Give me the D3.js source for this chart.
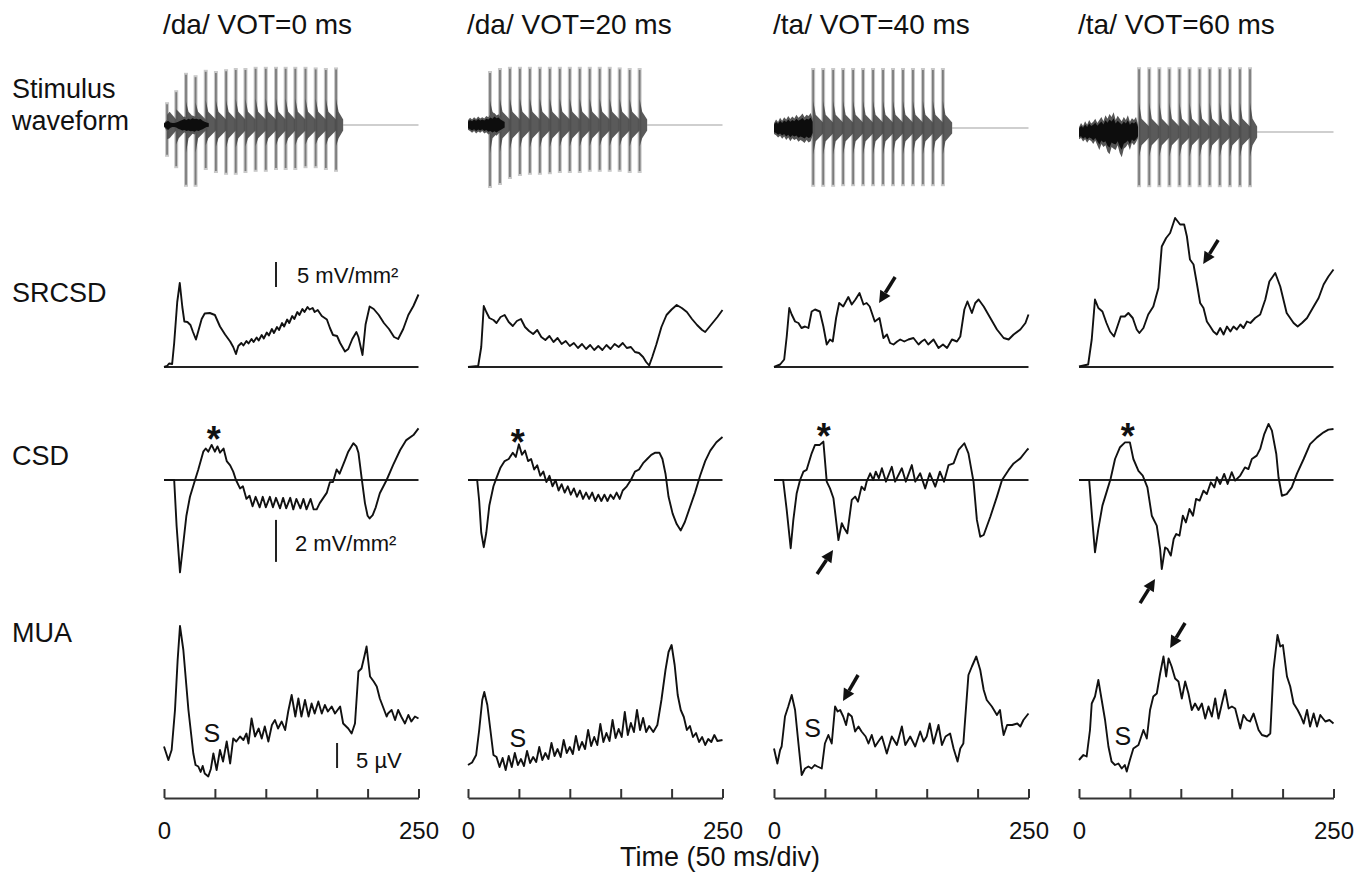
<!DOCTYPE html>
<html>
<head>
<meta charset="utf-8">
<script src="https://cdn.jsdelivr.net/npm/d3@7"></script>
<style>
  body { margin: 0; background: #fff; }
  svg text { font-family: "Liberation Sans", Arial, sans-serif; fill: #111; }
</style>
</head>
<body>
<svg id="fig" width="1371" height="888"></svg>
<script>
// ---- labels ----
const titles = ["/da/ VOT=0 ms", "/da/ VOT=20 ms", "/ta/ VOT=40 ms", "/ta/ VOT=60 ms"];
const rowLabels = [["Stimulus", "waveform"], ["SRCSD"], ["CSD"], ["MUA"]];
const xTicks = [0, 50, 100, 150, 200, 250];
const xLabel = "Time (50 ms/div)";

// ---- stimulus: glottal pulse times (ms), pulse amplitudes up/down (norm.), burst [t, up, down] ----
const pulsesDa0 = [3, 12, 21.6, 31, 41, 51, 61, 70.5, 80, 90, 100, 110, 119.5, 129, 139, 149, 159, 169];
const pulseUpDa0 = [0.38, 0.58, 0.87, 0.83, 0.92, 0.9, 0.93, 0.95, 0.95, 0.97, 0.97, 0.97, 0.97, 0.97, 0.97, 0.96, 0.95, 0.96];
const pulseDnDa0 = [0.53, 0.72, 1.03, 1.03, 0.75, 0.8, 0.83, 0.83, 0.8, 0.78, 0.78, 0.75, 0.75, 0.75, 0.72, 0.72, 0.75, 0.78];
const burstDa0 = [[0,0.03,0.03],[2,0.07,0.08],[4,0.1,0.12],[6,0.06,0.07],[8,0.05,0.05],[10,0.05,0.05],[12,0.06,0.06],[14,0.08,0.09],[16,0.1,0.11],[18,0.12,0.13],[20,0.14,0.12],[22,0.12,0.14],[24,0.15,0.13],[26,0.13,0.15],[28,0.16,0.14],[30,0.14,0.16],[32,0.15,0.13],[34,0.13,0.14],[36,0.14,0.12],[38,0.1,0.1],[40,0.08,0.07],[42,0.06,0.05],[44,0.04,0.04]];

const pulsesDa20 = [21.6, 31.4, 41.2, 51, 60.8, 70.6, 80.4, 90.2, 100, 109.8, 119.6, 129.4, 139.2, 149, 158.8, 168.6];
const pulseUpDa20 = [0.9, 0.95, 0.97, 0.97, 0.97, 0.97, 0.97, 0.97, 0.97, 0.97, 0.97, 0.97, 0.97, 0.96, 0.95, 0.95];
const pulseDnDa20 = [1.05, 1.0, 0.9, 0.85, 0.83, 0.83, 0.82, 0.8, 0.8, 0.8, 0.78, 0.78, 0.78, 0.78, 0.8, 0.8];
const burstDa20 = [[0,0.08,0.08],[2,0.12,0.1],[4,0.09,0.13],[6,0.13,0.1],[8,0.1,0.14],[10,0.14,0.11],[12,0.11,0.13],[14,0.13,0.1],[16,0.11,0.14],[18,0.15,0.12],[20,0.13,0.16],[22,0.18,0.14],[24,0.15,0.18],[26,0.2,0.15],[28,0.16,0.18],[30,0.18,0.14],[32,0.13,0.12],[34,0.1,0.09],[36,0.07,0.06]];

const pulsesTa40 = [38.5, 48.3, 58.1, 67.9, 77.7, 87.5, 97.3, 107.1, 116.9, 126.7, 136.5, 146.3, 156.1, 165.9];
const pulseUpTa40 = [1.0, 1.0, 1.0, 1.0, 1.0, 1.0, 1.0, 1.0, 1.0, 1.0, 1.0, 1.0, 1.0, 1.0];
const pulseDnTa40 = [0.98, 0.98, 0.98, 0.97, 0.97, 0.97, 0.97, 0.97, 0.97, 0.97, 0.97, 0.97, 0.97, 0.97];
const burstTa40 = [[0,0.08,0.1],[2,0.14,0.12],[4,0.1,0.16],[6,0.17,0.13],[8,0.12,0.18],[10,0.18,0.14],[12,0.14,0.2],[14,0.2,0.16],[16,0.15,0.22],[18,0.19,0.17],[20,0.16,0.2],[22,0.22,0.18],[24,0.17,0.23],[26,0.2,0.2],[28,0.24,0.22],[30,0.18,0.25],[32,0.22,0.2],[34,0.2,0.24],[36,0.25,0.22],[38,0.15,0.12]];

const pulsesTa60 = [59, 69, 78.9, 88.8, 98.7, 108.6, 118.5, 128.4, 138.3, 148.2, 158.1, 168];
const pulseUpTa60 = [1.08, 1.08, 1.08, 1.08, 1.08, 1.08, 1.08, 1.08, 1.08, 1.08, 1.08, 1.08];
const pulseDnTa60 = [0.92, 0.92, 0.92, 0.92, 0.92, 0.92, 0.92, 0.92, 0.92, 0.92, 0.92, 0.92];
const burstTa60 = [[0,0.08,0.12],[2,0.15,0.1],[4,0.1,0.16],[6,0.18,0.12],[8,0.12,0.18],[10,0.2,0.13],[12,0.14,0.15],[14,0.17,0.2],[16,0.22,0.14],[18,0.15,0.22],[20,0.2,0.3],[22,0.25,0.2],[24,0.18,0.25],[26,0.28,0.22],[28,0.22,0.33],[30,0.3,0.37],[32,0.25,0.25],[34,0.33,0.28],[36,0.2,0.3],[38,0.27,0.22],[40,0.22,0.35],[42,0.18,0.42],[44,0.25,0.28],[46,0.2,0.25],[48,0.28,0.2],[50,0.17,0.3],[52,0.23,0.18],[54,0.2,0.22],[56,0.25,0.17],[58,0.12,0.1]];

const stimEnd = [176, 176, 175, 175];

// ---- SRCSD (mV/mm^2), [t ms, value] ----
const srcsdDa0 = [[0,0],[3,0.2],[5,0.7],[8,0.6],[10,4.8],[13,13],[15.5,16.8],[18,12],[20,9.1],[23,9.0],[26,8.4],[28.5,7.0],[31.4,5.5],[34,7.4],[37,9.6],[40,10.7],[45,10.8],[50,10.4],[55,8.1],[60,6.5],[65,5.1],[68,4.0],[70.7,2.6],[73,4.2],[76,4.8],[78,4.3],[81,5.2],[83,4.7],[86,5.6],[88,5.0],[91,5.9],[93,5.3],[96,6.4],[98,5.7],[101,6.9],[103,6.3],[106,7.6],[108,6.8],[111,8.0],[113,7.4],[116,8.8],[118,8.1],[121,9.5],[123,8.8],[126,10.2],[128,9.6],[131,11.0],[133,10.4],[136,11.6],[138,11.0],[141,12.0],[143,11.5],[146,11.8],[148,11.0],[151,11.4],[155,10.2],[160,9.5],[163,7.8],[166,6.4],[170,6.2],[173,4.8],[177.8,3.1],[181,3.6],[185,5.6],[189,7.0],[191,6.0],[195,2.4],[198,8.5],[202,12.1],[206,11.6],[211,10.4],[216,8.8],[221,7.6],[226,6.0],[230,5.6],[235,7.6],[240,10.4],[245,12.2],[250,14.5]];
const srcsdDa20 = [[0,0],[10,0.2],[13,4],[15.5,12.2],[18,11],[21,9.8],[25,9.4],[28,8.8],[32,10],[36,10.4],[40,9],[44,8.2],[48,9.2],[52,9.6],[56,8],[60,7.2],[64,6.6],[68,7.4],[72,6],[76,5.4],[80,6.2],[84,5],[88,5.8],[92,4.6],[96,5.2],[100,4.2],[104,4.8],[108,3.8],[112,4.6],[116,3.6],[120,4.4],[124,3.4],[128,4.2],[132,3.4],[136,4.4],[140,3.6],[144,4.6],[148,4],[152,4.8],[156,3.8],[160,4],[164,3],[168,2.8],[172,2],[175,1],[178,0.3],[181,2],[185,4.5],[190,8],[195,10.4],[200,11.5],[205,12.4],[210,11.8],[215,11],[220,9.6],[225,8.4],[230,7.4],[233,7],[237,8],[241,9],[245,10],[250,11.4]];
const srcsdTa40 = [[0,0],[6,0.5],[10,1.5],[12.5,6.1],[15,11.8],[17.4,10.5],[20.7,9.1],[24,8.8],[27,7.8],[30.5,8.1],[33.8,7.8],[37,11.1],[40.3,11.5],[45,11.1],[48.5,8.1],[51.8,4.5],[55,5.5],[57.7,5.1],[61,9.8],[64,12.8],[68,12.1],[73,14.0],[76.4,12.5],[80,13.5],[84,14.8],[87.9,12.5],[91,12.8],[94,12.1],[99,9.1],[103.6,9.8],[107.5,5.8],[111,6.5],[114,4.8],[117.4,4.5],[121,5.1],[124,5.5],[128,5.1],[132,5.5],[137,5.8],[142,4.5],[145,5.1],[148,5.5],[151.5,4.5],[156.7,5.5],[161.6,3.8],[166,4.5],[170,3.8],[174.8,5.5],[179.7,5.1],[183,6.1],[187,11.5],[190,13.1],[194.4,10.8],[197.7,12.8],[201,13.5],[206,12.1],[212.5,9.8],[219,7.5],[225.6,5.8],[230.5,5.5],[235.4,6.5],[242,7.5],[247,8.8],[250,10.5]];
const srcsdTa60 = [[0,0.1],[9,0.5],[12.5,5.5],[15.7,13.5],[19,11.8],[23,11.1],[27,8.8],[30.5,7.1],[34.4,6.1],[37.7,8.1],[41,10.1],[45,10.1],[48.5,10.8],[52.8,9.8],[56.7,7.5],[59.3,6.8],[63.3,7.8],[68,10.5],[73,12.1],[78,15.8],[81.3,24.1],[85.6,25.8],[89.5,26.8],[94.4,29.8],[99.3,28.5],[103.3,28.5],[106,26.1],[109,21.5],[112.5,20.5],[115.7,16.8],[119,12.8],[122.3,11.8],[125.6,9.1],[128.9,8.1],[132,7.1],[135.4,6.5],[138.7,7.8],[142,6.5],[145.4,8.1],[148.7,7.1],[151.8,8.1],[155,7.5],[158.5,8.5],[161.6,7.8],[165,9.1],[168.4,8.8],[173,9.8],[178,10.5],[183,13.5],[187,17.1],[192.8,18.8],[197.7,16.1],[204,10.8],[210.8,8.8],[214.8,8.1],[219,8.8],[224,9.8],[230.5,12.1],[235.4,13.8],[240.3,16.5],[245,18.1],[250,19.5]];

// ---- CSD (mV/mm^2) ----
const csdDa0 = [[0,0],[10,0],[12.4,-2.2],[15.7,-4.4],[19,-3.0],[22,-1.7],[25.5,-0.8],[30.5,0],[33.7,0.5],[38.6,1.35],[41,1.5],[43.5,1.35],[46.8,1.67],[50,1.35],[52.5,1.6],[55,1.3],[58.5,1.5],[61.6,0.9],[65,0.7],[68,0.4],[70.7,0],[74.7,-0.4],[77.5,-0.3],[81,-0.9],[84,-0.75],[87,-1.25],[90,-0.8],[94,-1.3],[97,-0.8],[100,-1.3],[104,-0.8],[107,-1.3],[110,-0.85],[114,-1.35],[117,-0.85],[120,-1.35],[124,-0.85],[127,-1.4],[130,-0.9],[134,-1.35],[137,-0.9],[140,-1.4],[144,-0.9],[147,-1.4],[150,-1.4],[153,-1.1],[156.5,-0.85],[160,-0.6],[163,-0.1],[166,-0.1],[169.6,0.5],[172.5,0.3],[177.8,0.95],[181,1.35],[186,1.75],[189,1.6],[191,1.3],[194,0.15],[197.4,-1.1],[200,-1.7],[202,-1.83],[205,-1.67],[208,-1.3],[212,-0.63],[218.7,0],[225,0.71],[232,1.43],[238,1.9],[245,2.14],[250,2.46]];
const csdDa20 = [[0,0],[9,0],[11,-1],[13,-2.5],[15.5,-3.2],[18,-2.5],[21,-1.2],[25,-0.3],[28,0.1],[32,0.6],[36,0.9],[40,1.0],[44,1.3],[47,1.1],[50,1.7],[53,1.2],[56,1.4],[59,0.9],[62,1.0],[65,0.5],[68,0.7],[71,0.2],[74,0.4],[77,-0.1],[80,0.2],[83,-0.3],[86,0],[89,-0.5],[92,-0.2],[95,-0.6],[98,-0.3],[101,-0.7],[104,-0.4],[107,-0.8],[110,-0.5],[113,-0.9],[116,-0.6],[119,-0.9],[122,-0.6],[125,-1.0],[128,-0.7],[131,-1.0],[134,-0.7],[137,-1.0],[140,-0.7],[143,-0.9],[146,-0.6],[149,-0.9],[152,-0.5],[156,-0.3],[160,0],[164,0.4],[168,0.5],[172,0.8],[176,1.0],[180,1.2],[184,1.3],[188,1.3],[191,1.0],[194,0.3],[197,-0.8],[201,-1.6],[205,-2.1],[209,-2.4],[213,-2.0],[218,-1.3],[223,-0.6],[228,0.2],[233,0.9],[238,1.4],[244,1.8],[250,2.05]];
const csdTa40 = [[0,0],[9,0],[12.5,-1.43],[16.4,-3.25],[19,-1.9],[22.3,-0.63],[25.6,0],[28.9,0.4],[32,0.48],[37,1.27],[40.3,1.67],[45,1.67],[48.5,1.83],[51.8,-0.08],[55,-0.4],[58.4,-0.87],[63.3,-2.86],[66.6,-2.06],[69,-2.3],[72,-2.54],[76.4,-0.95],[79.7,-0.79],[82.5,-1.03],[86,-0.32],[89,-0.48],[91,-0.08],[94.5,0.32],[97.5,0],[100,0.4],[103,0.08],[106,0.56],[110,-0.08],[115.7,0.63],[119,-0.08],[125.6,0.56],[129.5,-0.08],[135.4,0.71],[138.7,-0.08],[143.6,0.32],[148.5,-0.4],[153,0.32],[158.4,-0.32],[163,0.4],[167,-0.08],[171.5,0.71],[176.4,0.79],[181.3,1.43],[187,1.75],[191,1.27],[196,-0.08],[199.3,-1.9],[202.6,-2.7],[206,-2.62],[212.5,-1.75],[219,-0.79],[224,0],[230.5,0.48],[235.4,0.79],[242,1.03],[248.5,1.43],[250,1.5]];
const csdTa60 = [[0,0],[10,0],[13,-1.86],[15.7,-3.44],[19,-2.33],[23,-1.22],[27,-0.59],[31,0.05],[35.4,1],[40.3,1.56],[45.2,1.79],[50,1.79],[53.4,1],[58.4,0.44],[62.6,0.21],[67.2,-0.35],[71.5,-1.7],[76.4,-2.17],[79.7,-3.29],[81.3,-4.24],[84.6,-3.21],[87,-3.29],[90.2,-3.6],[93,-2.81],[95.5,-2.57],[98.7,-2.65],[102,-1.7],[105,-2.02],[108.5,-1.38],[112,-1.7],[115,-0.9],[118.5,-0.98],[122.3,-0.51],[125.6,-0.67],[129.5,-0.11],[133,-0.35],[135.4,0.13],[138.7,-0.19],[142.6,0.29],[146,-0.19],[150,0.37],[153.4,-0.03],[158.4,0.21],[163,0.6],[166.4,0.52],[169.8,1],[174.6,1.16],[178,1.48],[182,2.19],[186.2,2.67],[189.5,2.35],[193.8,1.24],[196,0.13],[199.3,-0.75],[204,-0.67],[209,-0.35],[214,0.29],[220.7,1],[227,1.71],[233.8,2.03],[240.3,2.27],[245,2.4],[250,2.43]];

// ---- MUA (µV, arbitrary offset) ----
const muaDa0 = [[0,8.7],[4.3,6],[7.5,8],[10.8,16],[13.4,26],[15.7,32.8],[19,28],[24,16],[28.8,7.3],[31,5],[33.7,4.7],[36,3.6],[38,4.8],[40,3.3],[43.5,2.7],[46,4.2],[48.5,7.3],[51.7,4],[55,8],[58,5.7],[61.6,9.7],[65,5.3],[68,10.3],[71,9.7],[74.7,10.7],[78,10],[81,11.3],[83,9.3],[86,14.3],[89.4,10.7],[93,12.3],[96,10.3],[99,12.7],[102.5,9.7],[106,13],[109,14],[112,12.3],[115.6,13.7],[119,12],[122,15.7],[125.4,19],[129,14.7],[132,18.3],[135,14.7],[138.5,18],[142,14.7],[145,17.3],[148,15.3],[151.6,17.7],[155,15.3],[158,17],[161,15.7],[164.7,16.7],[168,15.3],[173,16.7],[176,13.3],[181,12.3],[184.3,11.3],[187.6,13.3],[191,23.7],[194,24.3],[196.8,26.7],[199,28.7],[202.4,22.7],[206,21.7],[209,20.7],[212,18.3],[215,16.7],[218.7,14.7],[220,15.3],[223.6,16],[227,14],[230,16],[233,14.7],[236.7,13.3],[240,15],[243,13.7],[246.5,14.7],[250,14.3]];
const muaDa20 = [[0,5],[4,5.5],[8,7],[11,12],[14,18],[16,19.6],[19,17],[22,12],[25,7],[28,6.6],[31,4.6],[34,6.4],[37,4],[40,6.8],[43,4.6],[46,7.4],[49,5],[52,6.2],[55,4.8],[58,7.8],[61,5.4],[64,6.6],[67,5.6],[70,8.6],[73,6],[76,7.4],[79,6.2],[82,9.4],[85,6.8],[88,8.2],[91,6.6],[94,10],[97,7.4],[100,8.6],[103,7.2],[106,10.8],[109,8],[112,9.6],[115,8.2],[118,12],[121,8.8],[124,10.6],[127,9],[130,13.2],[133,9.6],[136,11.4],[139,9.8],[142,14],[145,10.4],[148,12.2],[151,10.6],[154,15.6],[157,11],[160,13.4],[163,11.6],[166,16],[169,12],[172,14.4],[175,11.6],[178,12.8],[182,11.6],[186,13],[190,18],[194,24],[197,27.6],[200,29],[203,25],[206,19],[209,16],[212,14.6],[215,12],[218,12.8],[221,10.6],[224,11.4],[227,9.6],[230,10.6],[233,9],[236,10.2],[239,9.6],[242,11],[245,9.8],[250,10]];
const muaTa40 = [[0,8.3],[3.3,5.3],[6,8],[7.5,8.7],[10.8,14.7],[14,16.7],[17.4,19],[20.7,16],[24,9.3],[27.2,3],[30.5,4.3],[33.8,4.7],[37,4.3],[40,5],[42.6,4.7],[46.9,4.3],[50,9.3],[53.4,11],[56.7,9.3],[60,16.7],[62.5,15.7],[65,16],[68,14.7],[70.8,13],[73,15.3],[76.4,14.7],[79.7,11.7],[83,12.7],[86,11.7],[90,10.7],[92.8,9.3],[96,11],[99.3,8.7],[102.5,9.7],[106,10.7],[110.8,7.3],[115.7,10.7],[120.7,9],[125.6,12.7],[129,9],[133.8,10.7],[138.7,8.7],[143.6,11.7],[147,9.7],[150,10.7],[153,13.3],[156.7,9.3],[161.6,13],[165,9],[168.5,10.7],[173,11.3],[176.4,8.3],[180.3,5.7],[183,8.3],[186,9.3],[191,23],[194.4,24.7],[198.7,26.7],[202.6,24],[206,20],[209,18],[214,16.7],[219,15],[222,16],[224,13],[225.6,11],[229,13],[234,13],[239,13.3],[242,12.7],[245,14],[250,15.3]];
const muaTa60 = [[0,6],[4.3,7],[7.5,6.7],[10.8,12],[12.5,17.3],[15.7,18.7],[19,22],[22.3,18],[25.6,14],[28.9,8.7],[32,5.7],[35.4,5],[38.7,5.3],[42,4.3],[45,5],[46.9,3.7],[50,6],[53.4,8.3],[58.4,9],[63.3,12],[66.6,10.3],[69.8,16],[73,18.7],[76.4,19.3],[79.7,23.3],[83,26.7],[85.6,22.7],[88,26.3],[91,24.7],[94.4,22.3],[97.7,21.7],[101,18.3],[104.3,21.7],[107.5,19.3],[110.8,16],[114,17.3],[117.4,16],[120.7,17.3],[124,14.3],[127.2,16.7],[130.5,14.7],[133.8,18.3],[137,14.3],[140.4,17.3],[143.6,20],[147,16.3],[150.2,16.7],[153.4,16.3],[158.4,12.3],[161.6,15],[165,14],[168,13.7],[171.5,15.3],[176.4,12],[179.7,11],[184.6,10.7],[187.9,11.3],[191,24],[195,31],[197.7,28.7],[200.3,29],[204.3,22.7],[207.5,20.7],[210.8,17.3],[214.8,16],[218,14.7],[220.7,13.3],[224,16],[227,12.7],[230.5,15.3],[233.8,12.7],[237,15],[242,13.7],[246,14],[250,13.3]];

// ---- annotations (data coordinates: t ms, trace value) ----
const starPos = [[49, 2.24], [49, 2.1], [49, 2.38], [48, 2.38]];          // CSD row
const sPos = [[47, 11.4], [49, 10.4], [38, 12.4], [43, 10.8]];              // MUA row
const arrows = [
  { col: 2, row: "sr", from: [119, 18], to: [103.2, 12.8] },
  { col: 3, row: "sr", from: [136.7, 25.4], to: [122, 20.6] },
  { col: 2, row: "csd", from: [42.3, -4.48], to: [58, -3.33] },
  { col: 3, row: "csd", from: [60, -5.86], to: [74.7, -4.71] },
  { col: 2, row: "mua", from: [82.6, 23], to: [67.8, 17.8] },
  { col: 3, row: "mua", from: [104.2, 33.4], to: [89.5, 28.4] }
];
// scale bars, drawn in first column: [t position, bottom value, length, label]
const srBar = [110, 16, 5, "5 mV/mm\u00B2"];
const csdBar = [110, -3.9, 2, "2 mV/mm\u00B2"];
const muaBar = [170, 4.4, 5, "5 \u00B5V"];

// ---- layout ----
const svg = d3.select("#fig");
const font = "'Liberation Sans', Arial, sans-serif";
const colX = [164, 468, 774, 1079];
const colW = 254.5;
const stimBase = [125, 125, 128, 132];
const axisY = 798;

const cols = [
  { stim: [pulsesDa0, pulseUpDa0, pulseDnDa0, burstDa0], sr: srcsdDa0, csd: csdDa0, mua: muaDa0 },
  { stim: [pulsesDa20, pulseUpDa20, pulseDnDa20, burstDa20], sr: srcsdDa20, csd: csdDa20, mua: muaDa20 },
  { stim: [pulsesTa40, pulseUpTa40, pulseDnTa40, burstTa40], sr: srcsdTa40, csd: csdTa40, mua: muaTa40 },
  { stim: [pulsesTa60, pulseUpTa60, pulseDnTa60, burstTa60], sr: srcsdTa60, csd: csdTa60, mua: muaTa60 }
];

const ySr = d3.scaleLinear().domain([0, 10]).range([367, 317]);
const yCsd = d3.scaleLinear().domain([0, 2]).range([480, 438]);
const yMua = d3.scaleLinear().domain([0, 10]).range([790, 740]);
const yRow = { sr: ySr, csd: yCsd, mua: yMua };

const xs = [];

cols.forEach((c, i) => {
  const x = d3.scaleLinear().domain([0, 250]).range([colX[i], colX[i] + colW]);
  xs.push(x);
  const yStim = d3.scaleLinear().domain([0, 1]).range([stimBase[i], stimBase[i] - 60]);
  const g = svg.append("g");

  // title
  g.append("text").attr("x", x(0) - 1).attr("y", 34)
    .attr("font-size", 28).text(titles[i]);

  // ---- stimulus waveform ----
  const [pulses, ups, dns, burst] = c.stim;
  g.append("line")
    .attr("x1", x(stimEnd[i])).attr("x2", x(250))
    .attr("y1", yStim(0)).attr("y2", yStim(0))
    .attr("stroke", "#cfcfcf").attr("stroke-width", 2);

  // pulse spikes (soft grey)
  pulses.forEach((tp, k) => {
    g.append("line").attr("x1", x(tp)).attr("x2", x(tp))
      .attr("y1", yStim(ups[k])).attr("y2", yStim(-dns[k]))
      .attr("stroke", "#c9c9c9").attr("stroke-width", 4);
    g.append("line").attr("x1", x(tp)).attr("x2", x(tp))
      .attr("y1", yStim(ups[k]) + 2).attr("y2", yStim(-dns[k]) - 2)
      .attr("stroke", "#7c7c7c").attr("stroke-width", 1.8);
  });

  // ringing after each pulse
  pulses.forEach((tp, k) => {
    const tn = k < pulses.length - 1 ? pulses[k + 1] : stimEnd[i];
    g.append("path")
      .attr("d", `M${x(tp)},${yStim(ups[k] * 0.45)}L${x(tp + 2.5)},${yStim(0.22)}L${x(tn)},${yStim(0.09)}` +
                 `L${x(tn)},${yStim(-0.09)}L${x(tp + 2.5)},${yStim(-0.22)}L${x(tp)},${yStim(-dns[k] * 0.45)}Z`)
      .attr("fill", "#484848").attr("fill-opacity", 0.9);
  });

  // burst / aspiration noise: grey fringe + black core
  const burstArea = k => d3.area()
    .x(d => x(d[0]))
    .y0(d => yStim(-d[2] * k))
    .y1(d => yStim(d[1] * k));
  g.append("path").datum(burst).attr("d", burstArea(1)).attr("fill", "#555");
  g.append("path").datum(burst).attr("d", burstArea(0.7)).attr("fill", "#0d0d0d");

  // ---- baselines ----
  g.append("line").attr("x1", x(0)).attr("x2", x(250))
    .attr("y1", ySr(0)).attr("y2", ySr(0))
    .attr("stroke", "#222").attr("stroke-width", 1.8);
  g.append("line").attr("x1", x(0)).attr("x2", x(250))
    .attr("y1", yCsd(0)).attr("y2", yCsd(0))
    .attr("stroke", "#222").attr("stroke-width", 1.8);

  // ---- traces ----
  const mk = y => d3.line().x(d => x(d[0])).y(d => y(d[1]));
  [["sr", c.sr], ["csd", c.csd], ["mua", c.mua]].forEach(([r, data]) => {
    g.append("path").datum(data)
      .attr("d", mk(yRow[r]))
      .attr("fill", "none").attr("stroke", "#111")
      .attr("stroke-width", 1.9).attr("stroke-linejoin", "round");
  });

  // star and S
  g.append("text").attr("x", x(starPos[i][0])).attr("y", yCsd(starPos[i][1]) + 19)
    .attr("text-anchor", "middle").attr("font-size", 36).attr("font-weight", "bold").text("*");
  g.append("text").attr("x", x(sPos[i][0])).attr("y", yMua(sPos[i][1]) + 9)
    .attr("text-anchor", "middle").attr("font-size", 25).text("S");

  // ---- time axis ----
  const axis = d3.axisBottom(x).tickValues(xTicks)
    .tickSize(-9).tickSizeOuter(0).tickPadding(24)
    .tickFormat(d => (d === 0 || d === 250) ? d : "");
  svg.append("g").attr("transform", `translate(0,${axisY})`).call(axis)
    .call(a => a.selectAll("line,path").attr("stroke", "#333").attr("stroke-width", 2))
    .call(a => a.selectAll("text").attr("font-size", 24).attr("font-family", font).attr("fill", "#111"));
});

// ---- arrows ----
arrows.forEach(a => {
  const x = xs[a.col], y = yRow[a.row];
  const x1 = x(a.from[0]), y1 = y(a.from[1]), x2 = x(a.to[0]), y2 = y(a.to[1]);
  const ang = Math.atan2(y2 - y1, x2 - x1);
  const hl = 12, hw = 6;
  const bx = x2 - hl * Math.cos(ang), by = y2 - hl * Math.sin(ang);
  svg.append("line").attr("x1", x1).attr("y1", y1).attr("x2", bx).attr("y2", by)
    .attr("stroke", "#111").attr("stroke-width", 3.5);
  svg.append("path")
    .attr("d", `M${x2},${y2}L${bx + hw * Math.sin(ang)},${by - hw * Math.cos(ang)}L${bx - hw * Math.sin(ang)},${by + hw * Math.cos(ang)}Z`)
    .attr("fill", "#111");
});

// ---- scale bars (first column) ----
[[srBar, ySr, 21, -4], [csdBar, yCsd, 19, -11], [muaBar, yMua, 19, 0]].forEach(([b, y, dx, dy]) => {
  const bx = xs[0](b[0]);
  svg.append("line").attr("x1", bx).attr("x2", bx)
    .attr("y1", y(b[1])).attr("y2", y(b[1] + b[2]))
    .attr("stroke", "#222").attr("stroke-width", 2);
  svg.append("text").attr("x", bx + dx).attr("y", y(b[1]) + dy)
    .attr("font-size", 22).text(b[3]);
});

// ---- row labels ----
const rowY = [[98, 130], [302], [465], [642]];
rowLabels.forEach((lines, r) => {
  lines.forEach((t, k) => {
    svg.append("text").attr("x", 12).attr("y", rowY[r][k]).attr("font-size", 27).text(t);
  });
});

// ---- x label ----
svg.append("text").attr("x", 720).attr("y", 866).attr("text-anchor", "middle")
  .attr("font-size", 27).text(xLabel);
</script>
</body>
</html>
